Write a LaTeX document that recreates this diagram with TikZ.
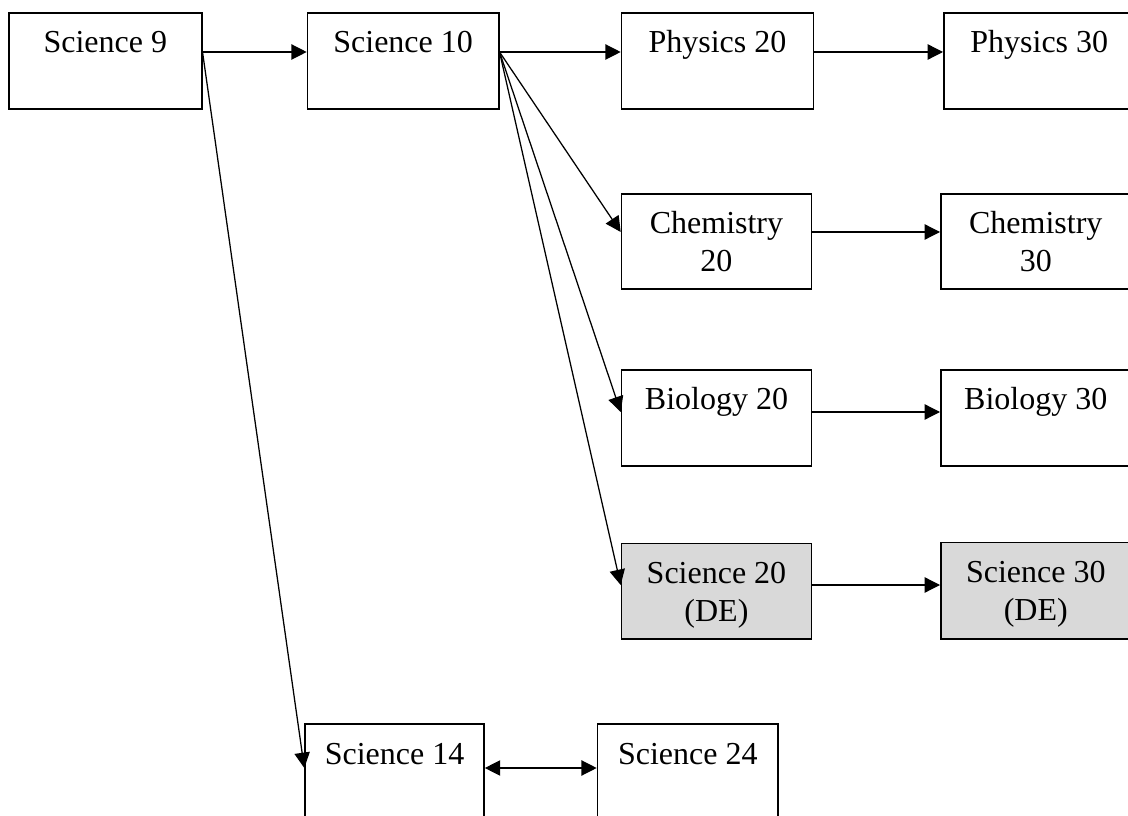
\documentclass[tikz,border=0pt]{standalone}
\usepackage{fontspec}
\setmainfont{Liberation Serif}
\usetikzlibrary{arrows.meta}
\definecolor{degray}{RGB}{217,217,217}
\tikzset{
  box/.style={draw=black, line width=1.15pt, inner sep=0pt, anchor=north west},
  lbl/.style={anchor=north, align=center, inner sep=0pt, font=\fontsize{24pt}{28.5pt}\selectfont},
  conn/.style={line width=0.95pt, -{Triangle[length=11.5pt,width=11.5pt]}},
  dconn/.style={line width=0.95pt, {Triangle[length=11.5pt,width=11.5pt]}-{Triangle[length=11.5pt,width=11.5pt]}},
}
\newcommand{\crsbox}[7]{%
  \node[box, minimum width={(#4-#2)*0.75pt}, minimum height={(#5-#3)*0.75pt}, #6] (#1) at (#2,#3) {};
  \node[lbl] (#1-t) at ([yshift=-10.45pt]#1.north) {\strut #7};
}
\begin{document}
\begin{tikzpicture}[x=0.75pt, y=-0.75pt]
\useasboundingbox (0,0) rectangle (1128,816);
\clip (0,0) rectangle (1128,816);
% row 1
\crsbox{sci9}{8}{12}{201}{108}{}{Science 9}
\crsbox{sci10}{306.7}{12}{498}{108}{}{Science 10}
\crsbox{phy20}{620.7}{12}{812.7}{108}{}{Physics 20}
\crsbox{phy30}{943}{12}{1134}{108}{}{Physics 30}
% row 2
\crsbox{chem20}{620.7}{193}{810.7}{288}{}{Chemistry\\20}
\crsbox{chem30}{940}{193}{1130}{288}{}{Chemistry\\30}
% row 3
\crsbox{bio20}{620.7}{369}{810.7}{465}{}{Biology 20}
\crsbox{bio30}{940}{369}{1130}{465}{}{Biology 30}
% row 4
\crsbox{sci20}{620.7}{542.7}{810.7}{638.3}{fill=degray}{Science 20\\(DE)}
\crsbox{sci30}{940}{541.7}{1130}{638.3}{fill=degray}{Science 30\\(DE)}
% row 5
\crsbox{sci14}{304.3}{723.3}{483.3}{840}{}{Science 14}
\crsbox{sci24}{596.7}{723.3}{777.3}{840}{}{Science 24}
% connectors
\draw[conn] (sci9.east |- 0,52) -- (sci10.west |- 0,52);
\draw[conn] (sci10.east |- 0,52) -- (phy20.west |- 0,52);
\draw[conn] (phy20.east |- 0,52) -- (phy30.west |- 0,52);
\draw[conn] (sci10.east |- 0,52) -- (chem20.west |- 0,232);
\draw[conn] (sci10.east |- 0,52) -- (bio20.west |- 0,412);
\draw[conn] (sci10.east |- 0,52) -- (sci20.west |- 0,585);
\draw[conn] (chem20.east |- 0,232) -- (chem30.west |- 0,232);
\draw[conn] (bio20.east |- 0,412) -- (bio30.west |- 0,412);
\draw[conn] (sci20.east |- 0,585) -- (sci30.west |- 0,585);
\draw[conn] (sci9.east |- 0,52) -- (sci14.west |- 0,768);
\draw[dconn] (sci14.east |- 0,768) -- (sci24.west |- 0,768);
\end{tikzpicture}
\end{document}
